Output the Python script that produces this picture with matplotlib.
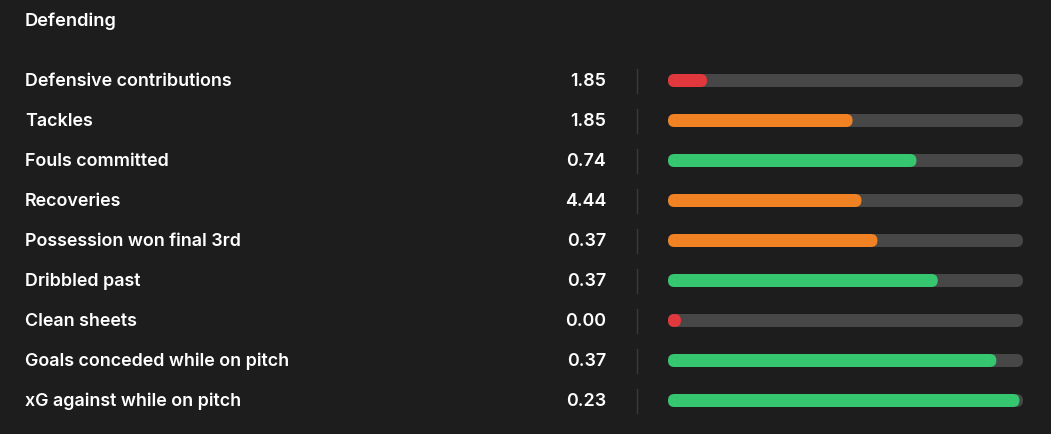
import matplotlib
matplotlib.use("Agg")
import matplotlib.pyplot as plt
from matplotlib.patches import FancyBboxPatch

# data
labels = ["Defensive contributions", "Tackles", "Fouls committed", "Recoveries",
          "Possession won final 3rd", "Dribbled past", "Clean sheets",
          "Goals conceded while on pitch", "xG against while on pitch"]
values = ["1.85", "1.85", "0.74", "4.44", "0.37", "0.37", "0.00", "0.37", "0.23"]
percentiles = [0.11, 0.52, 0.70, 0.545, 0.59, 0.76, 0.0, 0.925, 0.99]
tiers = ["low", "mid", "high", "mid", "mid", "high", "low", "high", "high"]

TIER_COLORS = {"low": "#e0383c", "mid": "#f08223", "high": "#35c66f"}
BG = "#1d1d1d"
TRACK = "#474747"

W, H = 1051, 435
fig = plt.figure(figsize=(W / 100, H / 100), dpi=100, facecolor=BG)
ax = fig.add_axes([0, 0, 1, 1])
ax.set_xlim(0, W)
ax.set_ylim(H, 0)
ax.axis("off")
ax.set_facecolor(BG)

font = dict(family=["Inter", "DejaVu Sans"], color="white", fontweight="semibold")

ax.text(25, 21, "Defending", fontsize=13.2, va="center", ha="left", **font)

x0, x1 = 668, 1023
bar_h = 13
row0, step = 81.5, 40
for i, (lab, val, p, t) in enumerate(zip(labels, values, percentiles, tiers)):
    y = row0 + i * step
    ax.text(25, y, lab, fontsize=12.9, va="center", ha="left", **font)
    ax.text(606, y, val, fontsize=12.9, va="center", ha="right", **font)
    ax.plot([637, 637], [y - 12, y + 12], color="#3a3a3a", lw=1)
    track = FancyBboxPatch((x0, y - bar_h / 2), x1 - x0, bar_h,
                           boxstyle=f"round,pad=0,rounding_size={bar_h / 2}",
                           fc=TRACK, ec="none")
    ax.add_patch(track)
    fw = max(p * (x1 - x0), bar_h)
    fill = FancyBboxPatch((x0, y - bar_h / 2), fw, bar_h,
                          boxstyle=f"round,pad=0,rounding_size={bar_h / 2}",
                          fc=TIER_COLORS[t], ec="none")
    ax.add_patch(fill)

fig.savefig("out.png", dpi=100, facecolor=BG)
